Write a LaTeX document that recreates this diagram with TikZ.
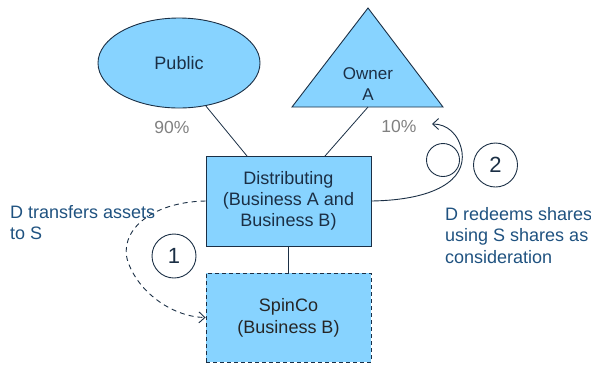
\documentclass[tikz,border=0pt]{standalone}
\usepackage{fontspec}
\setmainfont{Liberation Sans}
\usetikzlibrary{shapes.geometric,arrows.meta}
\definecolor{boxfill}{RGB}{135,211,255}
\definecolor{edge}{RGB}{27,47,69}
\definecolor{note}{RGB}{31,82,128}
\definecolor{pct}{RGB}{128,128,128}
\tikzset{
  ent/.style={draw=edge, fill=boxfill, line width=0.9pt, align=center, text=edge, font=\fontsize{18}{21}\selectfont, inner sep=0pt},
  link/.style={draw=edge, line width=0.8pt},
  num/.style={circle, draw=edge, line width=0.9pt, minimum size=44pt, inner sep=0pt, font=\fontsize{22}{24}\selectfont, text=edge},
  notetext/.style={align=left, text=note, font=\fontsize{18}{21.5}\selectfont, anchor=north west, inner sep=0pt},
  pcttext/.style={text=pct, font=\fontsize{17.5}{20}\selectfont, inner sep=0pt},
  flow/.style={draw=edge, line width=0.9pt, -{Straight Barb[length=6pt,width=11pt]}}
}
\begin{document}
\begin{tikzpicture}[x=1pt,y=-1pt]
\useasboundingbox (0,0) rectangle (591,365);
% Public
\node[ent, ellipse, minimum width=162pt, minimum height=90pt] (pub) at (179,63) {Public};
% Owner A triangle
\coordinate (tapex) at (368,8);
\coordinate (tl) at (292,107);
\coordinate (tr) at (443,107);
\filldraw[fill=boxfill, draw=edge, line width=0.9pt, line join=miter] (tapex) -- (tl) -- (tr) -- cycle;
\node[align=center, text=edge, font=\fontsize{17}{21}\selectfont] (owner) at (368,84) {Owner\\A};
\coordinate (obase) at (368,107);
% Distributing
\node[ent, minimum width=165pt, minimum height=90pt] (dist) at (288.5,201) {Distributing\\(Business A and\\Business B)};
% SpinCo
\node[ent, text=black!85, font=\fontsize{18}{22}\selectfont, dashed, dash pattern=on 4pt off 3pt, minimum width=165pt, minimum height=89pt] (spin) at (288.5,317.5) {SpinCo\\(Business B)};
% percentages
\node[pcttext] (p90) at (172,127) {90\%};
\node[pcttext] (p10) at (399,126) {10\%};
% ownership lines
\coordinate (dtl) at (247,156);
\coordinate (dtr) at (325,156);
\draw[link] (pub.-58.5) -- (dtl);
\draw[link] (obase) -- (dtr);
\draw[link] (dist.south) -- (spin.north);
% step circles
\node[num] (c1) at (174,256) {1};
\node[num] (c2) at (495.5,165) {2};
\node[circle, draw=edge, line width=0.9pt, minimum size=33pt, inner sep=0pt] (loop) at (443,160) {};
% arrows
\coordinate (a2end) at (432,124);
\draw[flow] (dist.east) .. controls (435,200) and (466,180) .. (462,152) .. controls (459,134) and (447,124) .. (a2end);
\draw[flow, dashed, dash pattern=on 5pt off 4pt] (dist.west) .. controls (150,202) and (118,232) .. (128,262) .. controls (140,295) and (175,317) .. (spin.west);
% notes
\node[notetext] (n1) at (10,205) {D transfers assets\\to S};
\node[notetext] (n2) at (445,207) {D redeems shares\\using S shares as\\consideration};
\end{tikzpicture}
\end{document}
